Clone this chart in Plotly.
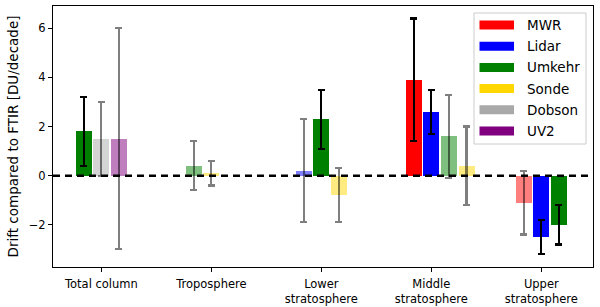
import plotly.graph_objects as go

# ---------------- data ----------------
categories = ["Total column", "Troposphere", "Lower<br>stratosphere",
              "Middle<br>stratosphere", "Upper<br>stratosphere"]
instruments = ["MWR", "Lidar", "Umkehr", "Sonde", "Dobson", "UV2"]

mwr_val = [None, None, None, 3.9, -1.1]
mwr_err = [None, None, None, 2.5, 1.3]
mwr_sig = [None, None, None, True, False]

lidar_val = [None, None, 0.2, 2.6, -2.5]
lidar_err = [None, None, 2.1, 0.9, 0.7]
lidar_sig = [None, None, False, True, True]

umkehr_val = [1.8, 0.4, 2.3, 1.6, -2.0]
umkehr_err = [1.4, 1.0, 1.2, 1.7, 0.8]
umkehr_sig = [True, False, True, False, True]

sonde_val = [None, 0.1, -0.8, 0.4, None]
sonde_err = [None, 0.5, 1.1, 1.6, None]
sonde_sig = [None, False, False, False, None]

dobson_val = [1.5, None, None, None, None]
dobson_err = [1.5, None, None, None, None]
dobson_sig = [False, None, None, None, None]

uv2_val = [1.5, None, None, None, None]
uv2_err = [4.5, None, None, None, None]
uv2_sig = [False, None, None, None, None]

y_ticks = [-2, 0, 2, 4, 6]
y_label = "Drift compared to FTIR [DU/decade]"

# ---------------- styling ----------------
colors = {"MWR": (255, 0, 0), "Lidar": (0, 0, 255), "Umkehr": (0, 128, 0),
          "Sonde": (255, 215, 0), "Dobson": (169, 169, 169), "UV2": (128, 0, 128)}
series = {
    "MWR": (mwr_val, mwr_err, mwr_sig),
    "Lidar": (lidar_val, lidar_err, lidar_sig),
    "Umkehr": (umkehr_val, umkehr_err, umkehr_sig),
    "Sonde": (sonde_val, sonde_err, sonde_sig),
    "Dobson": (dobson_val, dobson_err, dobson_sig),
    "UV2": (uv2_val, uv2_err, uv2_sig),
}

FONT = "DejaVu Sans"
W, H = 600, 307
L, R, T, B = 53, 7, 6, 40
SLOT = 0.16
BW = 0.145

fig = go.Figure()

for ci, cat in enumerate(categories):
    k = 0
    for name in instruments:
        vals, errs, sigs = series[name]
        v = vals[ci]
        if v is None:
            continue
        x = ci + (k - 1) * SLOT
        k += 1
        r, g, b = colors[name]
        sig = sigs[ci]
        a = 1.0 if sig else 0.5
        ecol = "rgba(0,0,0,1)" if sig else "rgba(0,0,0,0.5)"
        fig.add_trace(go.Bar(
            x=[x], y=[v], width=BW,
            marker=dict(color=f"rgba({r},{g},{b},{a})", line=dict(width=0)),
            error_y=dict(type="data", array=[errs[ci]], symmetric=True,
                         color=ecol, thickness=2.2, width=3.5),
            showlegend=False, hoverinfo="skip",
        ))

fig.add_shape(type="line", xref="paper", yref="y", x0=0, x1=1, y0=0, y1=0,
              line=dict(color="black", width=2.5, dash="7px,5px"), layer="above")

# ---------- legend drawn manually (matplotlib style) ----------
def px_x(p):
    return (p - L) / (W - L - R)

def px_y(p):
    return (H - B - p) / (H - T - B)

fig.add_shape(type="rect", xref="paper", yref="paper",
              x0=px_x(474), x1=px_x(586), y0=px_y(144), y1=px_y(13),
              line=dict(color="#cccccc", width=1),
              fillcolor="rgba(255,255,255,0.85)", layer="above")
for i, name in enumerate(instruments):
    cy = 25 + i * 21.2
    r, g, b = colors[name]
    fig.add_shape(type="rect", xref="paper", yref="paper",
                  x0=px_x(479.5), x1=px_x(514), y0=px_y(cy + 4.5), y1=px_y(cy - 4.5),
                  line=dict(width=0), fillcolor=f"rgb({r},{g},{b})", layer="above")
    fig.add_annotation(xref="paper", yref="paper", x=px_x(525), y=px_y(cy),
                       text=name, showarrow=False, xanchor="left", yanchor="middle",
                       font=dict(family=FONT, size=13.5, color="black"))

fig.add_annotation(xref="paper", yref="paper", x=px_x(12.5), y=px_y(137),
                   text=y_label, textangle=-90, showarrow=False,
                   xanchor="center", yanchor="middle",
                   font=dict(family=FONT, size=13.5, color="black"))

fig.update_layout(
    width=W, height=H,
    margin=dict(l=L, r=R, t=T, b=B, pad=0, autoexpand=False),
    paper_bgcolor="white", plot_bgcolor="white",
    barmode="overlay", bargap=0,
    font=dict(family=FONT, size=11, color="black"),
    xaxis=dict(range=[-0.44, 4.47], tickmode="array", automargin=False,
               tickvals=list(range(len(categories))), ticktext=categories,
               showgrid=False, zeroline=False, showline=True, mirror=True,
               linecolor="black", linewidth=1, ticks="outside", ticklen=4,
               tickwidth=1, tickcolor="black", ticklabelstandoff=2,
               tickfont=dict(family=FONT, size=11.5, color="black")),
    yaxis=dict(range=[-3.72, 6.91], tickmode="array", tickvals=y_ticks,
               automargin=False,
               ticktext=[("\u2212" + str(-t)) if t < 0 else str(t) for t in y_ticks],
               showgrid=False, zeroline=False, showline=True, mirror=True,
               linecolor="black", linewidth=1, ticks="outside", ticklen=4,
               tickwidth=1, tickcolor="black",
               tickfont=dict(family=FONT, size=11.5, color="black")),
)

fig.write_html("out.html",
               config={"displayModeBar": False, "staticPlot": True},
               post_script="document.body.style.margin='0';"
                           "document.body.style.padding='0';"
                           "document.body.style.overflow='hidden';")
